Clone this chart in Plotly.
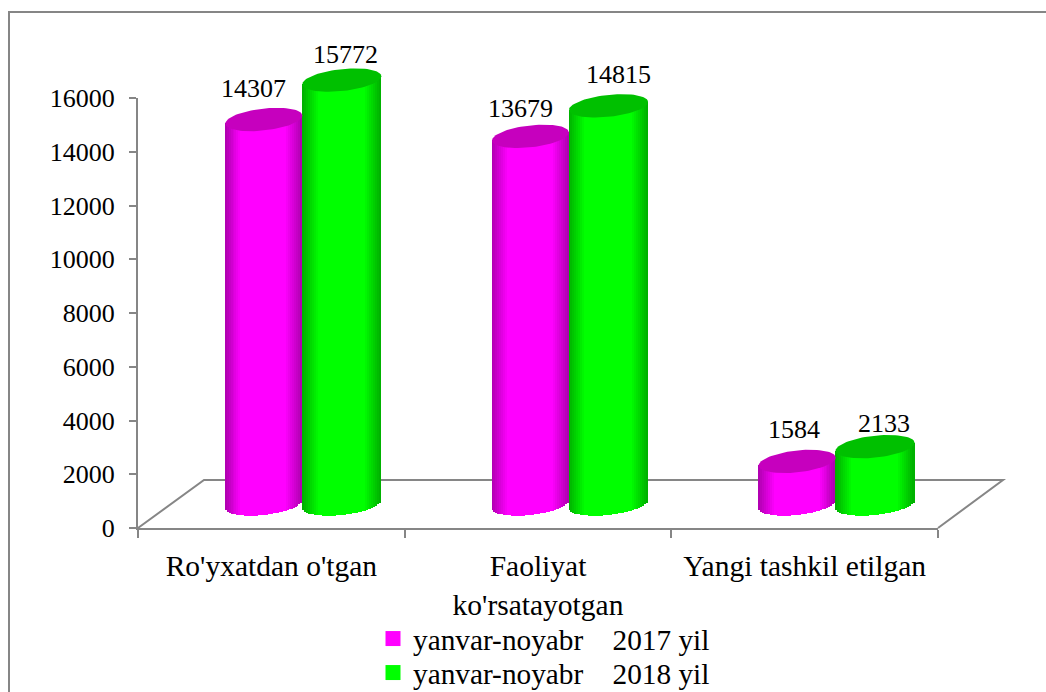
import numpy as np
import plotly.graph_objects as go

# ---- data ----
categories = ["Ro'yxatdan o'tgan", "Faoliyat<br>ko'rsatayotgan", "Yangi tashkil etilgan"]
series_2017 = [14307, 13679, 1584]
series_2018 = [15772, 14815, 2133]
series_names = ["yanvar-noyabr\u00a0\u00a0\u00a0\u00a02017 yil", "yanvar-noyabr\u00a0\u00a0\u00a0\u00a02018 yil"]
y_ticks = [0, 2000, 4000, 6000, 8000, 10000, 12000, 14000, 16000]

# ---- styling / geometry constants ----
W, H = 1046, 692
L, R, T, B = 138, 938, 98, 528          # axis rectangle in pixels
TOP = 30                                 # tall hidden axis reaches this pixel
FONT = "Liberation Serif"
GREY = "#868686"
YMAX = 16000
px_x = 3 / (R - L)                       # data units per pixel
px_y = YMAX / (B - T)
YMAX_TALL = (B - TOP) * px_y
BASE_LIFT = 24 * px_y                    # cylinder base centre above the axis
SEMI_B = 11 * px_y
RISE = 4 * px_y
SHIFT = {0: (31 - 38.5) * px_x, 1: (31 + 39.5) * px_x}
SEMI_A = {0: 38.5 * px_x, 1: 39.5 * px_x}
SIDE = {0: (255, 0, 255), 1: (0, 255, 0)}
CAP = {0: "#C600BE", 1: "#00C000"}
LABEL_SHIFT = [[(-10, 31), (-10, 28), (-3, 32)], [(4, 26), (10, 31), (9, 23)]]
N = 40


def shade(rgb, t):
    f = 0.68 + 0.32 * min(1.0, (1 - abs(t)) / 0.42)
    return "rgb(%d,%d,%d)" % tuple(int(c * f) for c in rgb)


fig = go.Figure()
annotations = []
for s, values in enumerate([series_2017, series_2018]):
    for c, v in enumerate(values):
        cx = c + 0.5 + SHIFT[s]
        a = SEMI_A[s]
        t = (np.arange(N) + 0.5) / N * 2 - 1
        bottom = BASE_LIFT + RISE * t - SEMI_B * np.sqrt(1 - t ** 2)
        top = BASE_LIFT + v + RISE * t
        fig.add_trace(go.Bar(
            x=cx + a * t, y=top - bottom, base=bottom, width=2 * a / N, yaxis="y2",
            marker=dict(color=[shade(SIDE[s], q) for q in t], line=dict(width=0)),
            cliponaxis=False, showlegend=False, hoverinfo="skip"))
        th = np.linspace(0, 2 * np.pi, 80)
        fig.add_trace(go.Scatter(
            x=cx + a * np.cos(th), yaxis="y2",
            y=BASE_LIFT + v + RISE * np.cos(th) + SEMI_B * np.sin(th),
            mode="lines", fill="toself", fillcolor=CAP[s], line=dict(width=0, color=CAP[s]),
            cliponaxis=False, showlegend=False, hoverinfo="skip"))
        dx, dy = LABEL_SHIFT[s][c]
        annotations.append(dict(
            x=cx, y=BASE_LIFT + v, xref="x", yref="y2", text=str(v), showarrow=False,
            xshift=dx, yshift=dy, font=dict(family=FONT, size=26, color="black")))

for s, name in enumerate(series_names):
    fig.add_trace(go.Scatter(
        x=[None], y=[None], mode="markers", name=name, legend="legend" if s == 0 else "legend2",
        marker=dict(symbol="square", size=15, color="rgb(%d,%d,%d)" % SIDE[s])))

pw, ph = R - L, B - TOP
floor = "M 0 0 L {:.5f} {:.5f} L {:.5f} {:.5f} L 1 0".format(66 / pw, 48 / ph, 865 / pw, 48 / ph)
shapes = [
    dict(type="path", path=floor, xref="paper", yref="paper", layer="below",
         line=dict(color=GREY, width=2)),
    dict(type="rect", xref="paper", yref="paper", layer="below",
         x0=(9 - L) / pw, x1=(1100 - L) / pw, y0=(B - 760) / ph, y1=(B - 12) / ph,
         line=dict(color=GREY, width=2)),
]

legend_style = dict(xanchor="left", yanchor="top", bgcolor="rgba(0,0,0,0)",
                    font=dict(family=FONT, size=29.3))

fig.update_layout(
    width=W, height=H, margin=dict(l=L, r=W - R, t=TOP, b=H - B, pad=0, autoexpand=False),
    paper_bgcolor="white", plot_bgcolor="rgba(0,0,0,0)", barmode="overlay", bargap=0,
    font=dict(family=FONT, color="black", size=26),
    shapes=shapes, annotations=annotations,
    legend=dict(x=(373 - L) / pw, y=(B - 613) / ph, **legend_style),
    legend2=dict(x=(373 - L) / pw, y=(B - 647) / ph, **legend_style),
    xaxis=dict(range=[0, 3], tickmode="array", tickvals=[0.5, 1.5, 2.5], ticktext=categories,
               ticks="", showgrid=False, zeroline=False, showline=True, linecolor=GREY, linewidth=2,
               tickfont=dict(family=FONT, size=29.5), ticklabelstandoff=11,
               minor=dict(tickmode="array", tickvals=[0, 1, 2, 3], ticks="outside", ticklen=8,
                          tickwidth=2, tickcolor=GREY)),
    yaxis=dict(domain=[0, (B - T) / (B - TOP)], range=[0, YMAX], tickmode="array", tickvals=y_ticks,
               tickformat="d", ticks="outside", ticklen=7, tickwidth=2, tickcolor=GREY, showgrid=False,
               zeroline=False, showline=True, linecolor=GREY, linewidth=2,
               tickfont=dict(family=FONT, size=26), ticklabelstandoff=9),
    yaxis2=dict(domain=[0, 1], range=[0, YMAX_TALL], visible=False, anchor="x"),
)

fig.write_html("out.html", config={"displayModeBar": False},
               post_script="document.body.style.margin='0';document.body.style.overflow='hidden';")
